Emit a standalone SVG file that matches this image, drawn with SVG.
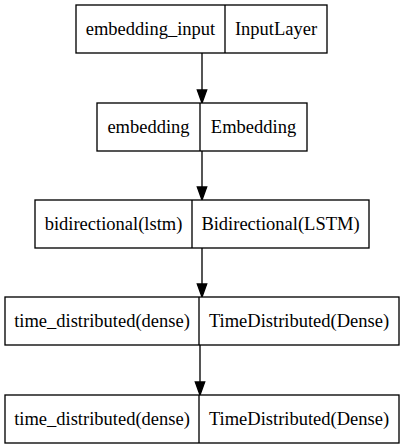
<svg xmlns="http://www.w3.org/2000/svg" width="404" height="448" viewBox="0 0 404 448">
<style>
.box{fill:#fff;stroke:#000;stroke-width:1.33}
.div{stroke:#000;stroke-width:1.33}
text{font-family:'Liberation Serif','Times New Roman',serif;font-size:18.5px;text-anchor:middle;fill:#000}
.edge{stroke:#000;stroke-width:1.33;fill:none}
.head{fill:#000;stroke:#000;stroke-width:1.33}
</style>
<rect width="404" height="448" fill="#fff"/>
<g id="connectors">
<path class="edge" d="M202,53V90"/><polygon class="head" points="197.3,90 206.7,90 202,103"/>
<path class="edge" d="M202,151V187"/><polygon class="head" points="197.3,187 206.7,187 202,200"/>
<path class="edge" d="M202,248V284"/><polygon class="head" points="197.3,284 206.7,284 202,297"/>
<path class="edge" d="M200,345V382"/><polygon class="head" points="195.3,382 204.7,382 200,395"/>
</g>
<g id="embedding_input">
<rect class="box" x="76" y="5" width="251" height="48"/>
<line class="div" x1="225" y1="5" x2="225" y2="53"/>
<text x="150.5" y="35">embedding_input</text>
<text x="276" y="35">InputLayer</text>
</g>
<g id="embedding">
<rect class="box" x="97" y="103" width="210" height="48"/>
<line class="div" x1="200" y1="103" x2="200" y2="151"/>
<text x="148.5" y="133">embedding</text>
<text x="253.5" y="133">Embedding</text>
</g>
<g id="bidirectional">
<rect class="box" x="35" y="200" width="334" height="48"/>
<line class="div" x1="192" y1="200" x2="192" y2="248"/>
<text x="113.5" y="230">bidirectional(lstm)</text>
<text x="280.5" y="230">Bidirectional(LSTM)</text>
</g>
<g id="time_distributed_1">
<rect class="box" x="5" y="297" width="394" height="48"/>
<line class="div" x1="199" y1="297" x2="199" y2="345"/>
<text x="102" y="327">time_distributed(dense)</text>
<text x="299" y="327">TimeDistributed(Dense)</text>
</g>
<g id="time_distributed_2">
<rect class="box" x="5" y="395" width="394" height="48"/>
<line class="div" x1="199" y1="395" x2="199" y2="443"/>
<text x="102" y="425">time_distributed(dense)</text>
<text x="299" y="425">TimeDistributed(Dense)</text>
</g>
</svg>
